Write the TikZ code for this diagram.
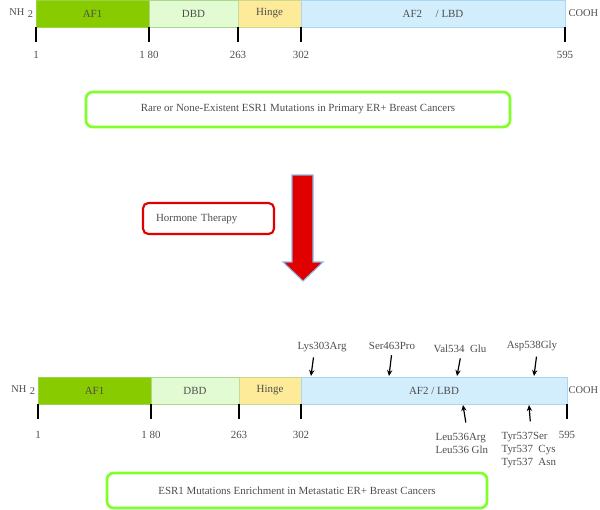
\documentclass[tikz,border=0pt]{standalone}
\usepackage{fontspec}
\setmainfont{Liberation Serif}
\usepackage{tikz}
\usetikzlibrary{arrows.meta}
\usetikzlibrary{positioning}

\definecolor{labelgray}{HTML}{4D4D4D}
\definecolor{afone}{HTML}{88CC00}
\definecolor{afoneline}{HTML}{9AD24A}
\definecolor{dbd}{HTML}{E2FBD2}
\definecolor{dbdline}{HTML}{A8D98C}
\definecolor{hinge}{HTML}{FEEB9A}
\definecolor{hingeline}{HTML}{C9D98E}
\definecolor{aftwo}{HTML}{D2EDFC}
\definecolor{aftwoline}{HTML}{A9D6F3}
\definecolor{boxgreen}{HTML}{80FF2A}
\definecolor{therapyred}{HTML}{E00000}
\definecolor{arrowblue}{HTML}{8AB8E8}

\begin{document}
\begin{tikzpicture}[x=0.75pt, y=-0.75pt, font=\fontsize{8.2}{9.75}\selectfont, text=labelgray,
    seg/.style={draw, outer sep=0pt, inner sep=0pt, minimum height=20.25pt, anchor=west},
    tick/.style={line width=0.9pt},
    num/.style={inner sep=1pt},
    mut/.style={line width=0.9pt, -{Stealth[length=4.5pt, width=4pt]}},
    mutlabel/.style={inner sep=1pt},
    ends/.style={inner sep=0pt, font=\fontsize{7.8}{9}\selectfont},
    stagebox/.style={draw=boxgreen, line width=2pt, rounded corners=5pt, minimum height=26.25pt},
    therapybox/.style={draw=therapyred, line width=1.6pt, rounded corners=4pt, inner xsep=9.75pt,
      text width=78.75pt, align=left, minimum height=23.25pt}]
    \useasboundingbox (0,0) rectangle (600,510);

    % primary
    \node[seg, fill=afone, draw=afoneline, minimum width=84.75pt, anchor=north west] (af1) at (36,0) {AF1};
    \node[seg, fill=dbd, draw=dbdline, minimum width=66.75pt, right=0pt of af1] (dbd) {DBD};
    \node[seg, fill=hinge, draw=hingeline, minimum width=47.25pt, right=0pt of dbd] (hinge) {Hinge};
    \node[seg, fill=aftwo, draw=aftwoline, minimum width=198pt, right=0pt of hinge] (af2) {AF2\quad\ / LBD};
    \node[ends, left=2pt of af1] (nh) {NH\,\,\raisebox{-0.4ex}{2}};
    \node[ends, right=2.5pt of af2] (cooh) {COOH};

    \draw[tick] (af1.south west) -- ++(0,15) coordinate (t1);
    \draw[tick] (dbd.south west) -- ++(0,15) coordinate (t180);
    \draw[tick] (hinge.south west) -- ++(0,15) coordinate (t263);
    \draw[tick] (af2.south west) -- ++(0,15) coordinate (t302);
    \draw[tick] (af2.south east) -- ++(0,15) coordinate (t595);
    \node[num, below=5.5pt of t1] (n1) {1};
    \node[num, below=5.5pt of t180] (n180) {1 80};
    \node[num, below=5.5pt of t263] (n263) {263};
    \node[num, below=5.5pt of t302] (n302) {302};
    \node[num, below=5.5pt of t595] (n595) {595};

    \node[stagebox, minimum width=318pt] (primary) at (298,109.5) {Rare or None-Existent ESR1 Mutations in Primary ER+ Breast Cancers};

    % therapy
    \node[therapybox] (therapy) at (208.5,218.5) {Hormone Therapy};
    \filldraw[draw=arrowblue, fill=therapyred, line width=0.8pt]
        (292,175) -- (313,175) -- (313,262) -- (323,262) -- (303,281) -- (283,262) -- (292,262) -- cycle;

    % metastatic
    \node[seg, fill=afone, draw=afoneline, minimum width=84.75pt, anchor=north west] (af1b) at (38,377) {AF1};
    \node[seg, fill=dbd, draw=dbdline, minimum width=66pt, right=0pt of af1b] (dbdb) {DBD};
    \node[seg, fill=hinge, draw=hingeline, minimum width=46.5pt, right=0pt of dbdb] (hingeb) {Hinge};
    \node[seg, fill=aftwo, draw=aftwoline, minimum width=199.5pt, right=0pt of hingeb] (af2b) {AF2 / LBD};
    \node[ends, left=2pt of af1b] (nhb) {NH\,\,\raisebox{-0.4ex}{2}};
    \node[ends, right=1pt of af2b] (coohb) {COOH};

    \draw[tick] (af1b.south west) -- ++(0,15) coordinate (b1);
    \draw[tick] (dbdb.south west) -- ++(0,15) coordinate (b180);
    \draw[tick] (hingeb.south west) -- ++(0,15) coordinate (b263);
    \draw[tick] (af2b.south west) -- ++(0,15) coordinate (b302);
    \draw[tick] (af2b.south east) -- ++(0,15) coordinate (b595);
    \node[num, below=8pt of b1] (m1) {1};
    \node[num, below=8pt of b180] (m180) {1 80};
    \node[num, below=8pt of b263] (m263) {263};
    \node[num, below=8pt of b302] (m302) {302};
    \node[num, below=8pt of b595] (m595) {595};

    \node[mutlabel] (lys) at (322,347) {Lys303Arg};
    \node[mutlabel] (ser) at (392,346) {Ser463Pro};
    \node[mutlabel] (val) at (460,349) {Val534\ \ Glu};
    \node[mutlabel] (asp) at (532,346) {Asp538Gly};
    \node[mutlabel, align=left, anchor=west] (leu) at (434,443.5) {Leu536Arg\\Leu536\ Gln};
    \node[mutlabel, align=left, anchor=west] (tyr) at (500,450) {Tyr537Ser\\Tyr537\ \ Cys\\Tyr537\ \ Asn};

    \coordinate (p303) at (311,376);
    \coordinate (p463) at (389,376);
    \coordinate (p534) at (457,376);
    \coordinate (p538) at (534,376);
    \coordinate (p536) at (463,405);
    \coordinate (p537) at (529,405);
    \draw[mut, shorten <=3pt] ([xshift=-6pt]lys.south) -- (p303);
    \draw[mut, shorten <=3pt] (ser.south) -- (p463);
    \draw[mut, shorten <=3pt] ([xshift=0.75pt]val.south) -- (p534);
    \draw[mut, shorten <=3pt] ([xshift=3.75pt]asp.south) -- (p538);
    \draw[mut, shorten <=7pt] ([xshift=25pt]leu.north west) -- (p536);
    \draw[mut, shorten <=7pt] ([xshift=23.25pt]tyr.north west) -- (p537);

    \node[stagebox, minimum width=285pt] (metastatic) at (297,490.5) {ESR1 Mutations Enrichment in Metastatic ER+ Breast Cancers};
\end{tikzpicture}
\end{document}
